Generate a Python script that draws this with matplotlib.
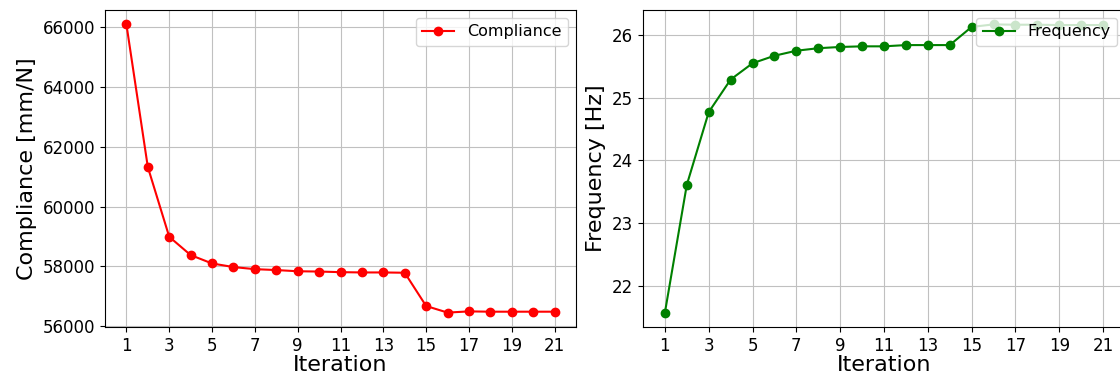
import matplotlib
matplotlib.use("Agg")
import matplotlib.pyplot as plt

iterations = list(range(1, 22))
compliance = [66080, 61320, 58990, 58380, 58100, 57980, 57910, 57880, 57840, 57830,
              57810, 57800, 57800, 57790, 56680, 56460, 56500, 56490, 56490, 56490, 56490]
frequency = [21.57, 23.61, 24.77, 25.29, 25.55, 25.67, 25.75, 25.79, 25.81, 25.82,
             25.82, 25.84, 25.84, 25.84, 26.13, 26.17, 26.165, 26.165, 26.16, 26.16, 26.16]
xticks = list(range(1, 22, 2))

fig = plt.figure(figsize=(11.2, 3.77), dpi=100)
ax1 = fig.add_axes([105/1120, 50/377, 471/1120, 317/377])
ax2 = fig.add_axes([643/1120, 50/377, 482/1120, 317/377])

tick_fs = 12
label_fs = 16
leg_fs = 11.5
grid_kw = dict(color='#c0c0c0', linewidth=0.8)

ax1.plot(iterations, compliance, '-o', color='red', markersize=6, linewidth=1.5, label='Compliance')
ax1.set_xlabel('Iteration', fontsize=label_fs, labelpad=0.5)
ax1.set_ylabel('Compliance [mm/N]', fontsize=label_fs)
ax1.set_xticks(xticks)
ax1.set_yticks([56000, 58000, 60000, 62000, 64000, 66000])
ax1.tick_params(labelsize=tick_fs)
ax1.grid(True, **grid_kw)
ax1.legend(loc='upper right', fontsize=leg_fs)

ax2.plot(iterations, frequency, '-o', color='green', markersize=6, linewidth=1.5, label='Frequency')
ax2.set_xlabel('Iteration', fontsize=label_fs, labelpad=0.5)
ax2.set_ylabel('Frequency [Hz]', fontsize=label_fs)
ax2.set_xticks(xticks)
ax2.set_yticks([22, 23, 24, 25, 26])
ax2.tick_params(labelsize=tick_fs)
ax2.grid(True, **grid_kw)
ax2.legend(loc='upper right', fontsize=leg_fs)

fig.savefig('out.png', dpi=100)
